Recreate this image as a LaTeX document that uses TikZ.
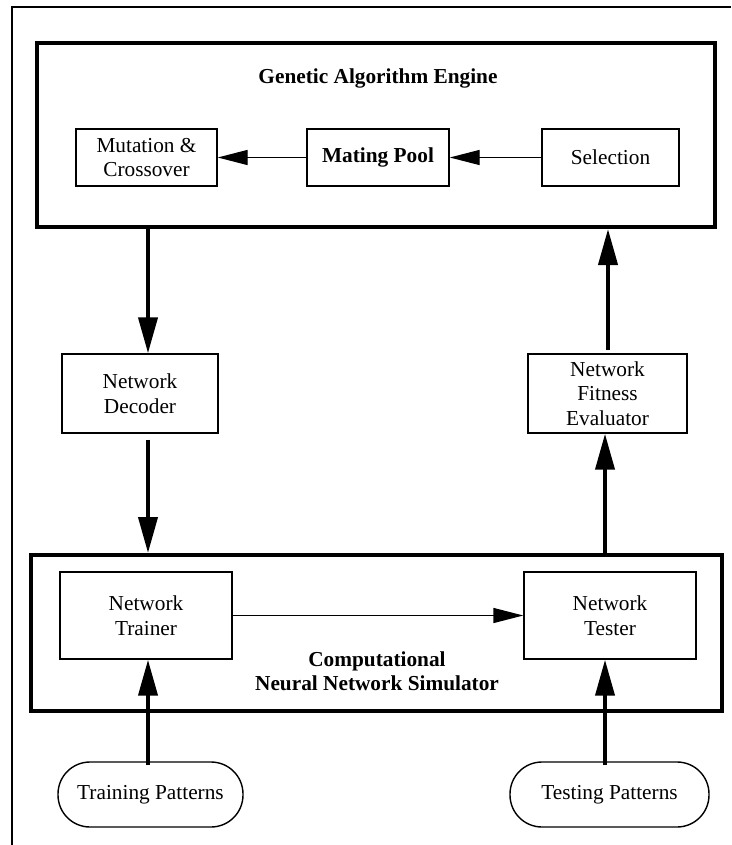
\documentclass[tikz,border=0pt]{standalone}
\usepackage{fontspec}
\setmainfont{Liberation Serif}
\usetikzlibrary{arrows.meta}
\begin{document}
\begin{tikzpicture}[x=1pt,y=-1pt,
  every node/.style={inner sep=0pt, font=\fontsize{21.3}{24.5}\selectfont, align=center},
  thinbox/.style={draw, line width=1.4pt, minimum width=#1},
  bigbox/.style={draw, line width=4pt},
  pill/.style={draw, line width=1.4pt, rounded corners=32pt, minimum height=65pt, minimum width=#1},
  thickarrow/.style={line width=4pt, -{Triangle[length=36pt,width=19pt]}},
  thinarrow/.style={line width=1.4pt, -{Triangle[length=30pt,width=15pt]}},
  frameline/.style={line width=1.5pt}
]
\useasboundingbox (0,0) rectangle (731,845);
% outer frame (only top and left edges visible)
\draw[frameline] (12,845) -- (12,7) -- (731,7);

% Genetic Algorithm Engine
\node[bigbox, minimum width=678pt, minimum height=184pt] (ga) at (376,135) {};
\node[font=\fontsize{21.3}{24.5}\selectfont\bfseries] (gatitle) at (378,78) {Genetic Algorithm Engine};
\node[thinbox=141pt, minimum height=57pt] (mut) at (146.5,157.5) {Mutation \&\\Crossover};
\node[thinbox=142pt, minimum height=57pt, font=\fontsize{21.3}{24.5}\selectfont\bfseries] (pool) at (378,157.5) {Mating Pool};
\node[thinbox=137pt, minimum height=57pt] (sel) at (610.5,157.5) {Selection};
\draw[thinarrow] (sel.west) -- (pool.east);
\draw[thinarrow] (pool.west) -- (mut.east);

% middle boxes
\node[thinbox=156pt, minimum height=79pt] (dec) at (140,393.5) {Network\\Decoder};
\node[thinbox=159pt, minimum height=79pt] (eva) at (607.5,393.5) {Network\\Fitness\\Evaluator};

% Computational Neural Network Simulator
\node[bigbox, minimum width=691pt, minimum height=156pt] (cnn) at (376.5,633) {};
\node[thinbox=172pt, minimum height=87pt] (trn) at (146,615.5) {Network\\Trainer};
\node[thinbox=172pt, minimum height=87pt] (tst) at (610,615.5) {Network\\Tester};
\node[font=\fontsize{21.3}{24.5}\selectfont\bfseries] (cnntitle) at (377,671) {Computational\\Neural Network Simulator};
\draw[thinarrow] (trn.east) -- (tst.west);

% pattern sources
\node[pill=185pt] (trp) at (150.5,794.5) {Training Patterns};
\node[pill=199pt] (tsp) at (609.5,794.5) {Testing Patterns};

% vertical connector columns
\coordinate (lx) at (148,0);
\coordinate (rx) at (605,0);
\coordinate (ux) at (608,0);

\draw[thickarrow] (ga.south -| lx) -- (dec.north -| lx);
\draw[thickarrow, shorten <=6pt] (dec.south -| lx) -- (cnn.north -| lx);
\draw[thickarrow] (cnn.north -| rx) -- (eva.south -| rx);
\draw[thickarrow, shorten <=3pt] (eva.north -| ux) -- (ga.south -| ux);
\draw[thickarrow, shorten <=-4pt] (trp.north -| lx) -- (trn.south -| lx);
\draw[thickarrow, shorten <=-4pt] (tsp.north -| rx) -- (tst.south -| rx);
\end{tikzpicture}
\end{document}
